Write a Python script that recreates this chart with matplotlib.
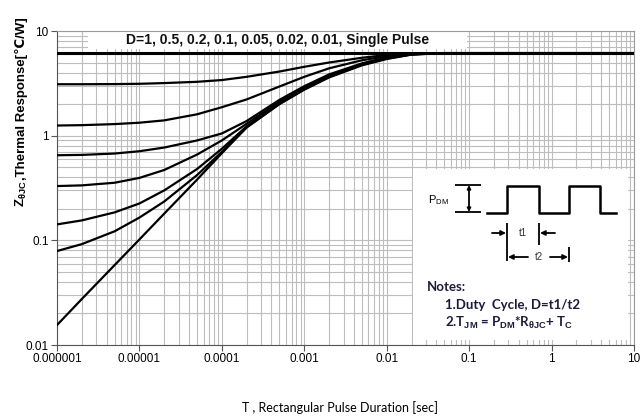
import matplotlib
matplotlib.use("Agg")
import matplotlib.pyplot as plt
from matplotlib.patches import Rectangle

# pulse durations [sec] where the curves were read
t = [1e-6, 2e-6, 5e-6, 1e-5, 2e-5, 5e-5, 1e-4, 2e-4, 5e-4, 1e-3, 2e-3, 5e-3,
     1e-2, 2e-2, 5e-2, 0.1, 1, 10]

# Z_thJC [C/W] for every duty cycle
z_d100 = [6.15] * 18
z_d50 = [3.1, 3.1, 3.11, 3.13, 3.18, 3.27, 3.4, 3.65, 4.1, 4.55, 5.0, 5.55,
         5.9, 6.1, 6.15, 6.15, 6.15, 6.15]
z_d20 = [1.25, 1.26, 1.29, 1.33, 1.4, 1.6, 1.87, 2.22, 2.95, 3.65, 4.4, 5.25,
         5.75, 6.05, 6.15, 6.15, 6.15, 6.15]
z_d10 = [0.65, 0.655, 0.675, 0.71, 0.77, 0.9, 1.05, 1.38, 2.2, 2.97, 3.85, 4.9,
         5.6, 6.02, 6.15, 6.15, 6.15, 6.15]
z_d05 = [0.33, 0.335, 0.355, 0.395, 0.47, 0.66, 0.9, 1.3, 2.12, 2.9, 3.75, 4.85,
         5.55, 6.0, 6.15, 6.15, 6.15, 6.15]
z_d02 = [0.142, 0.155, 0.185, 0.225, 0.3, 0.48, 0.75, 1.23, 2.05, 2.82, 3.7, 4.8,
         5.5, 6.0, 6.15, 6.15, 6.15, 6.15]
z_d01 = [0.079, 0.092, 0.122, 0.165, 0.235, 0.42, 0.7, 1.2, 2.02, 2.78, 3.65, 4.75,
         5.45, 5.97, 6.15, 6.15, 6.15, 6.15]
z_single = [0.0155, 0.0275, 0.058, 0.102, 0.18, 0.38, 0.68, 1.2, 2.0, 2.75, 3.6, 4.7,
            5.4, 5.95, 6.15, 6.15, 6.15, 6.15]

curves = [z_d100, z_d50, z_d20, z_d10, z_d05, z_d02, z_d01, z_single]

x_ticks = [1e-6, 1e-5, 1e-4, 1e-3, 1e-2, 1e-1, 1, 10]
x_labels = ["0.000001", "0.00001", "0.0001", "0.001", "0.01", "0.1", "1", "10"]
y_ticks = [0.01, 0.1, 1, 10]
y_labels = ["0.01", "0.1", "1", "10"]

plt.rcParams["font.family"] = ["Liberation Sans", "DejaVu Sans"]
plt.rcParams["mathtext.fontset"] = "custom"
plt.rcParams["mathtext.rm"] = "Liberation Sans"
plt.rcParams["mathtext.bf"] = "Liberation Sans:bold"

fig = plt.figure(figsize=(6.4, 4.18), dpi=100)
ax = fig.add_axes([57 / 640, 1 - 345 / 418, 577 / 640, 314 / 418])

for z in curves:
    lw = 2.2 if z is z_d100 else 1.6
    ax.plot(t, z, color="black", lw=lw, zorder=3)

ax.set_xscale("log")
ax.set_yscale("log")
ax.set_xlim(1e-6, 10)
ax.set_ylim(0.01, 10)
ax.set_xticks(x_ticks)
ax.set_xticklabels(x_labels)
ax.set_yticks(y_ticks)
ax.set_yticklabels(y_labels)
ax.tick_params(which="major", length=4, width=0.8, color="#555555", labelsize=8.5, pad=2)
ax.tick_params(which="minor", length=0)
ax.set_axisbelow(True)
ax.grid(True, which="both", color="#bdbdbd", lw=0.8)
for s in ["left", "bottom"]:
    ax.spines[s].set_color("#555555")
for s in ["top", "right"]:
    ax.spines[s].set_color("#9a9a9a")

# white strip behind the duty cycle list
ax.add_patch(Rectangle((0.054, 0.943), 0.657, 0.057, transform=ax.transAxes,
                       facecolor="white", edgecolor="none", zorder=1))
ax.text(0.383, 0.971, "D=1, 0.5, 0.2, 0.1, 0.05, 0.02, 0.01, Single Pulse",
        transform=ax.transAxes, ha="center", va="center", fontsize=10,
        fontweight="bold", color="#111111", zorder=4)

# y label in two pieces so the degree sign can fall back to DejaVu
yl1 = fig.text(25 / 640, 1 - 207 / 418, r"Z$_{\mathbf{\theta JC}}$", rotation=90,
               rotation_mode="anchor", ha="left", va="baseline",
               fontsize=9.5, fontweight="bold")
fig.canvas.draw()
bb = yl1.get_window_extent()
fig.text(25 / 640, bb.y1 / fig.bbox.height, ",Thermal Response[℃/W]", rotation=90,
         rotation_mode="anchor", ha="left", va="baseline", fontsize=9.5,
         fontweight="bold", family=["Liberation Sans", "DejaVu Sans"])

fig.text(340 / 640, 1 - 408 / 418, "T , Rectangular Pulse Duration [sec]",
         ha="center", va="center", fontsize=9, family=["Lato", "DejaVu Sans"])

# notes box with the pulse sketch, drawn in reference pixel units
nx = fig.add_axes([413 / 640, 1 - 340 / 418, 215 / 640, 171 / 418])
nx.set_xlim(413, 628)
nx.set_ylim(340, 169)
nx.axis("off")
nx.add_patch(Rectangle((413, 169), 215, 171, facecolor="white", edgecolor="none"))

k = dict(color="black", lw=1.3, solid_capstyle="butt")
nx.plot([487, 507, 507, 539, 539, 569, 569, 600, 600, 616],
        [213, 213, 186, 186, 213, 213, 186, 186, 213, 213], color="black", lw=1.8)
nx.plot([455, 481], [185, 185], **k)
nx.plot([455, 481], [212, 212], **k)
nx.annotate("", xy=(469, 185), xytext=(469, 212),
            arrowprops=dict(arrowstyle="<|-|>", color="black", lw=1.3,
                            mutation_scale=5, shrinkA=0, shrinkB=0))
nx.text(428, 200, r"P$_{\mathrm{DM}}$", ha="left", va="center", fontsize=8)

nx.plot([507, 507], [223, 261], **k)
nx.plot([539, 539], [223, 245], **k)
nx.plot([569, 569], [247, 262], **k)
ar = dict(arrowstyle="-|>", color="black", lw=1.3, mutation_scale=7, shrinkA=0, shrinkB=0)
nx.annotate("", xy=(506, 233), xytext=(492, 233), arrowprops=ar)
nx.annotate("", xy=(540, 233), xytext=(555, 233), arrowprops=ar)
nx.text(523, 233, "t1", ha="center", va="center", fontsize=7, color="#333333")
nx.annotate("", xy=(508, 257), xytext=(528, 257), arrowprops=ar)
nx.annotate("", xy=(568, 257), xytext=(550, 257), arrowprops=ar)
nx.text(539, 257, "t2", ha="center", va="center", fontsize=7, color="#333333")

nf = dict(fontsize=9.5, fontweight="bold", color="#1c1c3a", family=["Lato", "DejaVu Sans"])
nx.text(427, 287, "Notes:", ha="left", va="center", **nf)
nx.text(445, 305, "1.Duty  Cycle, D=t1/t2", ha="left", va="center", **nf)
nx.text(445, 323, r"2.T$_{\mathbf{JM}}$ = P$_{\mathbf{DM}}$*R$_{\mathbf{\theta JC}}$+ T$_{\mathbf{C}}$",
        ha="left", va="center", **nf)

fig.savefig("out.png", dpi=100)
